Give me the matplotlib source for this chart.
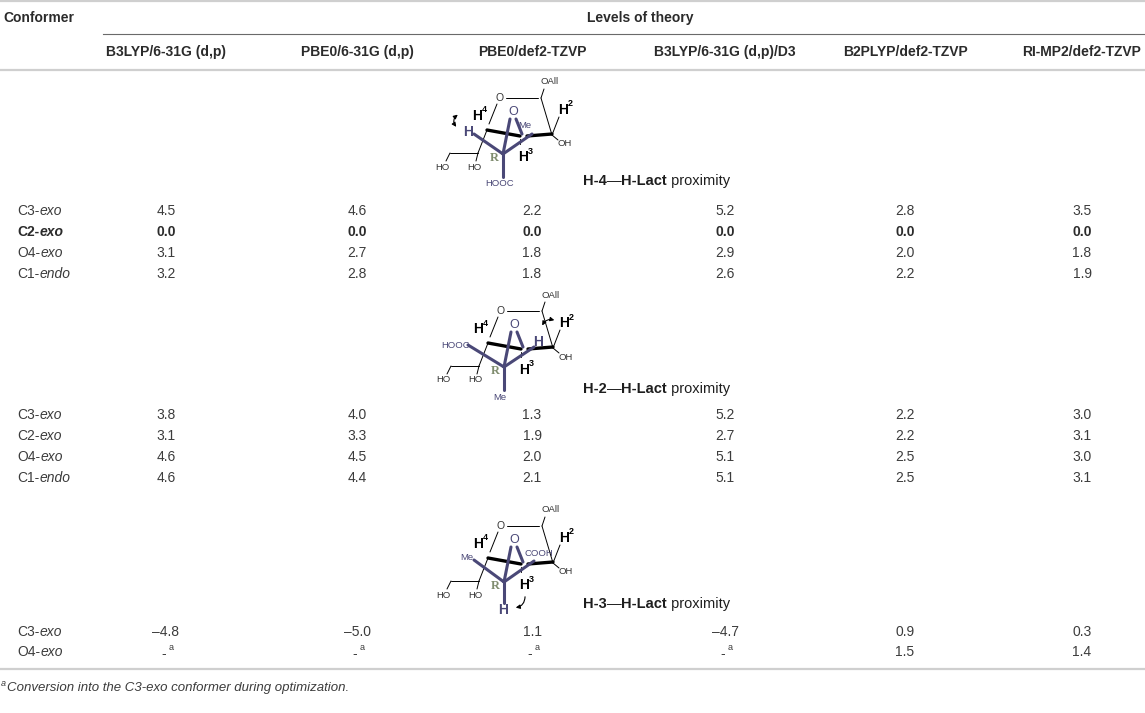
import matplotlib
matplotlib.use("Agg")
import matplotlib.pyplot as plt
from matplotlib.patches import FancyArrowPatch

plt.rcParams['font.family'] = ['Liberation Sans', 'DejaVu Sans']

# --- table content ---
levels = ['B3LYP/6-31G (d,p)', 'PBE0/6-31G (d,p)', 'PBE0/def2-TZVP',
          'B3LYP/6-31G (d,p)/D3', 'B2PLYP/def2-TZVP', 'RI-MP2/def2-TZVP']

h4_rows = [('C3-', 'exo'), ('C2-', 'exo'), ('O4-', 'exo'), ('C1-', 'endo')]
h4_vals = [[4.5, 4.6, 2.2, 5.2, 2.8, 3.5],
           [0.0, 0.0, 0.0, 0.0, 0.0, 0.0],
           [3.1, 2.7, 1.8, 2.9, 2.0, 1.8],
           [3.2, 2.8, 1.8, 2.6, 2.2, 1.9]]

h2_rows = [('C3-', 'exo'), ('C2-', 'exo'), ('O4-', 'exo'), ('C1-', 'endo')]
h2_vals = [[3.8, 4.0, 1.3, 5.2, 2.2, 3.0],
           [3.1, 3.3, 1.9, 2.7, 2.2, 3.1],
           [4.6, 4.5, 2.0, 5.1, 2.5, 3.0],
           [4.6, 4.4, 2.1, 5.1, 2.5, 3.1]]

h3_rows = [('C3-', 'exo'), ('O4-', 'exo')]
h3_vals = [[-4.8, -5.0, 1.1, -4.7, 0.9, 0.3],
           [None, None, None, None, 1.5, 1.4]]

footnote = 'Conversion into the C3-exo conformer during optimization.'

# --- layout (pixels) ---
W, H = 1145, 713
col_x = [166, 357, 532, 725, 905, 1082]
TXT = '#2b2b2b'
VAL = '#3c3c3c'
PURPLE = '#4a4877'
RULE = '#cfcfcf'

fig = plt.figure(figsize=(W / 100, H / 100), dpi=100)
ax = fig.add_axes([0, 0, 1, 1])
ax.set_xlim(0, W)
ax.set_ylim(H, 0)
ax.axis('off')
renderer = fig.canvas.get_renderer()


def rich(x, y, parts, size=10, color=TXT):
    """draw consecutive text pieces [(text, weight, style), ...]"""
    for s, weight, style in parts:
        t = ax.text(x, y, s, fontsize=size, fontweight=weight, fontstyle=style,
                    color=color, ha='left', va='center')
        x = t.get_window_extent(renderer).x1


def line(p, q, x0, y0, c='black', lw=0.7):
    ax.plot([x0 + p[0], x0 + q[0]], [y0 + p[1], y0 + q[1]], color=c, lw=lw,
            solid_capstyle='round')


def small(x0, y0, p, s, c='#333333', size=6.8, weight='normal'):
    ax.text(x0 + p[0], y0 + p[1], s, fontsize=size, color=c, ha='center',
            va='center', fontweight=weight)


def hlabel(x0, y0, p, num):
    ax.text(x0 + p[0], y0 + p[1], 'H', fontsize=10, fontweight='bold',
            color='black', ha='center', va='center')
    ax.text(x0 + p[0] + 5, y0 + p[1] - 6, num, fontsize=6.5, fontweight='bold',
            color='black', ha='left', va='center')


def sugar(x0, y0, variant):
    # furanose core, C4 at (x0, y0)
    line((2, -6), (10, -26), x0, y0)
    line((19, -32), (51, -32), x0, y0)
    line((54, -32), (65, 5), x0, y0)
    line((54, -32), (57, -41), x0, y0)
    small(x0, y0, (13, -32), 'O', size=7.5)
    small(x0, y0, (63, -48), 'OAll')
    # front bonds
    line((0, 0), (33, 6), x0, y0, lw=2.4)
    line((40, 6), (65, 4), x0, y0, lw=2.4)
    line((65, 5), (72, -13), x0, y0)
    line((65, 5), (71, 10), x0, y0)
    small(x0, y0, (78, 14), 'OH')
    hlabel(x0, y0, (76, -20), '2')
    line((33, 9), (33, 14), x0, y0)
    hlabel(x0, y0, (36, 27), '3')
    hlabel(x0, y0, (-10, -14), '4')
    # side chain
    line((0, 0), (-9, 23), x0, y0)
    line((-9, 23), (-11, 31), x0, y0)
    line((-9, 23), (-37, 23), x0, y0)
    line((-37, 23), (-41, 31), x0, y0)
    small(x0, y0, (-13, 37), 'HO')
    small(x0, y0, (-45, 37), 'HO')
    # lactyl bridge
    c = (16, 24)
    small(x0, y0, (26, -18), 'O', c=PURPLE, size=9)
    line((23, -11), c, x0, y0, c=PURPLE, lw=2.2)
    line((29, -11), (35, 4), x0, y0, c=PURPLE, lw=2.2)
    ax.text(x0 + 7, y0 + 28, 'R', fontsize=9, fontweight='bold',
            family='Liberation Serif', color='#7f8c6e', ha='center', va='center')
    if variant == 1:
        line(c, (-13, 4), x0, y0, c=PURPLE, lw=2.2)
        line(c, (45, 4), x0, y0, c=PURPLE, lw=2.2)
        line(c, (16, 47), x0, y0, c=PURPLE, lw=2.2)
        small(x0, y0, (-19, 2), 'H', c=PURPLE, size=10, weight='bold')
        small(x0, y0, (38, -5), 'Me', c=PURPLE)
        small(x0, y0, (13, 54), 'HOOC', c=PURPLE)
        arr = FancyArrowPatch((x0 - 27, y0 - 17), (x0 - 29, y0 - 1),
                              arrowstyle='<|-|>', mutation_scale=6,
                              connectionstyle='arc3,rad=0.6', lw=0.8, color='black')
        ax.add_patch(arr)
    elif variant == 2:
        line(c, (-20, 2), x0, y0, c=PURPLE, lw=2.2)
        line(c, (46, 4), x0, y0, c=PURPLE, lw=2.2)
        line(c, (16, 47), x0, y0, c=PURPLE, lw=2.2)
        small(x0, y0, (-32, 3), 'HOOC', c=PURPLE)
        small(x0, y0, (50, -1), 'H', c=PURPLE, size=10, weight='bold')
        small(x0, y0, (12, 55), 'Me', c=PURPLE)
        arr = FancyArrowPatch((x0 + 53, y0 - 15), (x0 + 69, y0 - 22),
                              arrowstyle='<|-|>', mutation_scale=6,
                              connectionstyle='arc3,rad=-0.5', lw=0.8, color='black')
        ax.add_patch(arr)
    else:
        line(c, (-14, 2), x0, y0, c=PURPLE, lw=2.2)
        line(c, (46, 3), x0, y0, c=PURPLE, lw=2.2)
        line(c, (16, 45), x0, y0, c=PURPLE, lw=2.2)
        small(x0, y0, (-21, 0), 'Me', c=PURPLE)
        small(x0, y0, (51, -4), 'COOH', c=PURPLE)
        small(x0, y0, (15, 52), 'H', c=PURPLE, size=10, weight='bold')
        arr = FancyArrowPatch((x0 + 37, y0 + 36), (x0 + 25, y0 + 50),
                              arrowstyle='-|>', mutation_scale=6,
                              connectionstyle='arc3,rad=-0.5', lw=0.8, color='black')
        ax.add_patch(arr)


def proximity(x, y, h):
    rich(x, y, [(h, 'bold', 'normal'), ('\u2014', 'light', 'normal'),
                ('H-Lact', 'bold', 'normal'), (' proximity', 'normal', 'normal')],
         size=10.5, color='#1e1e1e')


def fmt(v):
    return f'{v:.1f}'.replace('-', '\u2013')


def rows(labels, vals, ys, bold_row=None):
    for i, ((pre, it), vrow) in enumerate(zip(labels, vals)):
        y = ys[i]
        w = 'bold' if i == bold_row else 'normal'
        col = TXT if i == bold_row else VAL
        rich(17, y, [(pre, w, 'normal'), (it, w, 'italic')], color=col)
        for x, v in zip(col_x, vrow):
            if v is None:
                ax.text(x - 2, y + 2, '-', fontsize=10, color=VAL, ha='center', va='center')
                ax.text(x + 3, y - 5, 'a', fontsize=6.5, color=VAL, ha='left', va='center')
            else:
                ax.text(x, y, fmt(v), fontsize=10, color=col, fontweight=w,
                        ha='center', va='center')


# --- rules ---
ax.plot([0, W], [1, 1], color=RULE, lw=1.6)
ax.plot([103, W], [34, 34], color='#6a6a6a', lw=0.8)
ax.plot([0, W], [70, 70], color=RULE, lw=1.6)
ax.plot([0, W], [669, 669], color=RULE, lw=1.6)

# --- header ---
ax.text(3, 18, 'Conformer', fontsize=10, fontweight='bold', color=TXT, va='center')
ax.text(640, 18, 'Levels of theory', fontsize=10, fontweight='bold', color=TXT,
        ha='center', va='center')
for x, name in zip(col_x, levels):
    ax.text(x, 52, name, fontsize=10, fontweight='bold', color=TXT,
            ha='center', va='center')

# --- groups ---
sugar(487, 130, 1)
proximity(583, 181, 'H-4')
rows(h4_rows, h4_vals, [211, 232, 253, 274], bold_row=1)

sugar(488, 343, 2)
proximity(583, 389, 'H-2')
rows(h2_rows, h2_vals, [415, 436, 457, 478])

sugar(488, 558, 3)
proximity(583, 604, 'H-3')
rows(h3_rows, h3_vals, [632, 652])

# --- footnote ---
ax.text(1, 684, 'a', fontsize=6.5, color=VAL, fontstyle='italic', va='center')
ax.text(7, 688, footnote, fontsize=9.5, color=VAL, fontstyle='italic', va='center')

fig.savefig('out.png', dpi=100)
